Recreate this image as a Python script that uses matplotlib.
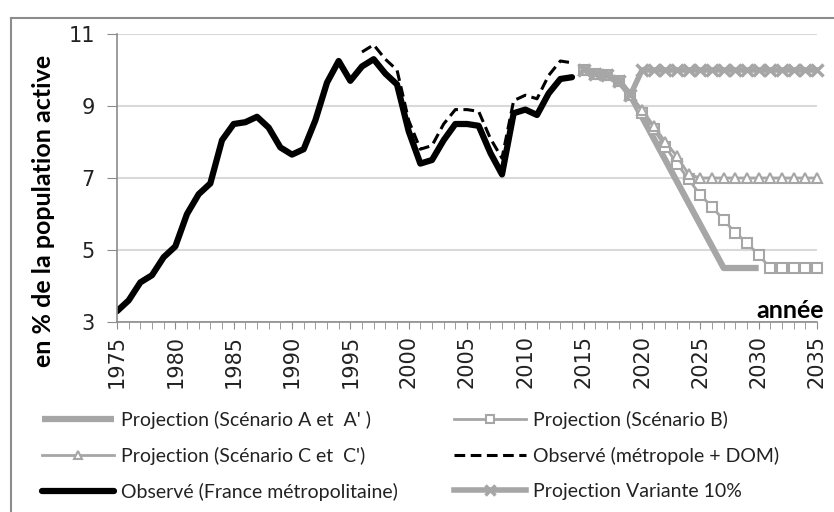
import matplotlib
matplotlib.use('Agg')
import matplotlib.pyplot as plt
from matplotlib.lines import Line2D
import numpy as np

# observed series
years_obs = list(range(1975, 2015))
france_metro = [3.3, 3.6, 4.1, 4.3, 4.8, 5.1, 6.0, 6.55, 6.85, 8.05,
                8.5, 8.55, 8.7, 8.4, 7.85, 7.65, 7.8, 8.6, 9.65, 10.25,
                9.7, 10.1, 10.3, 9.9, 9.6, 8.3, 7.4, 7.5, 8.05, 8.5,
                8.5, 8.45, 7.7, 7.1, 8.8, 8.9, 8.75, 9.35, 9.75, 9.8]
years_dom = list(range(1996, 2015))
metro_dom = [10.5, 10.7, 10.3, 10.0, 8.6, 7.8, 7.9, 8.5, 8.9, 8.9,
             8.85, 8.1, 7.55, 9.15, 9.3, 9.2, 9.85, 10.25, 10.2]

# projections
years_a = list(range(2015, 2031))
scen_a = [10.0, 9.9, 9.85, 9.7, 9.3, 8.7, 8.1, 7.5, 6.9, 6.3,
          5.7, 5.1, 4.5, 4.5, 4.5, 4.5]
years_proj = list(range(2015, 2036))
scen_b = [10.0, 9.9, 9.85, 9.7, 9.3, 8.8, 8.35, 7.87, 7.4, 6.96,
          6.53, 6.2, 5.83, 5.48, 5.2, 4.86, 4.5, 4.5, 4.5, 4.5, 4.5]
scen_c = [10.0, 9.9, 9.85, 9.7, 9.3, 8.9, 8.45, 8.0, 7.6, 7.1,
          7.0, 7.0, 7.0, 7.0, 7.0, 7.0, 7.0, 7.0, 7.0, 7.0, 7.0]
variante = [10.0, 9.9, 9.85, 9.7, 9.3, 10.0, 10.0, 10.0, 10.0, 10.0,
            10.0, 10.0, 10.0, 10.0, 10.0, 10.0, 10.0, 10.0, 10.0, 10.0, 10.0]

labels = ["Projection (Scénario A et  A' )", "Projection (Scénario B)",
          "Projection (Scénario C et  C')", "Observé (métropole + DOM)",
          "Observé (France métropolitaine)", "Projection Variante 10%"]

grey = '#a6a6a6'
axis_grey = '#8c8c8c'

fig = plt.figure(figsize=(8.34, 5.12), dpi=100)
ax = fig.add_axes([117/834, 1 - 322/512, 700/834, 288/512])

la, = ax.plot(years_a, scen_a, color=grey, lw=4.5, solid_capstyle='butt')
lb, = ax.plot(years_proj, scen_b, color=grey, lw=2, marker='s', ms=7,
              mfc='white', mec=grey, mew=1.5, clip_on=False)
lc, = ax.plot(years_proj, scen_c, color=grey, lw=2, marker='^', ms=7.5,
              mfc='white', mec=grey, mew=1.5, clip_on=False)
ld, = ax.plot(years_dom, metro_dom, color='black', lw=2.2, dashes=(3.5, 1.8))
lf, = ax.plot(years_obs, france_metro, color='black', lw=4.5,
              solid_capstyle='round', solid_joinstyle='round')
lv, = ax.plot(years_proj, variante, color=grey, lw=4, marker='x', ms=9,
              mew=2.5, mec=grey, clip_on=False)

ax.set_xlim(1975, 2035)
ax.set_ylim(3, 11)
ax.set_yticks([3, 5, 7, 9, 11])
ax.set_xticks(range(1975, 2036, 5))
ax.set_xticks(range(1975, 2036), minor=True)
ax.yaxis.grid(True, color='#d9d9d9', lw=1.5)
ax.set_axisbelow(True)
for s in ['top', 'right']:
    ax.spines[s].set_visible(False)
for s in ['left', 'bottom']:
    ax.spines[s].set_color(axis_grey)
    ax.spines[s].set_linewidth(1.2)
ax.tick_params(axis='y', length=7, color=axis_grey, pad=9, labelsize=15)
ax.tick_params(axis='x', which='both', length=5, color=axis_grey, pad=4,
               labelsize=15, labelrotation=90)
for t in ax.get_xticklabels() + ax.get_yticklabels():
    t.set_fontfamily('DejaVu Sans')
    t.set_color('#222222')

fig.text(44/834, 1 - 211/512, 'en % de la population active', rotation=90,
         ha='center', va='center', fontsize=18, fontweight='bold',
         family=['Lato', 'DejaVu Sans'])
fig.text(824/834, 1 - 318/512, 'année', ha='right', va='baseline',
         fontsize=18, fontweight='bold', family=['Lato', 'DejaVu Sans'])

leg_font = {'family': ['Lato', 'DejaVu Sans'], 'size': 14}
leg_kw = dict(loc='upper left', frameon=False, borderpad=0, borderaxespad=0,
              handlelength=3.7, handletextpad=0.35, labelspacing=0.92,
              markerscale=0.8, prop=leg_font)
leg1 = fig.legend([la, lc, lf], [labels[0], labels[2], labels[4]],
                  bbox_to_anchor=(42/834, 1 - 411/512), **leg_kw)
leg2 = fig.legend([lb, ld, lv], [labels[1], labels[3], labels[5]],
                  bbox_to_anchor=(454/834, 1 - 411/512), **leg_kw)
for lg in (leg1, leg2):
    for t in lg.get_texts():
        t.set_color('#222222')

# chart area border (cropped on the right and bottom)
fig.add_artist(Line2D([11/834, 11/834], [0, 1 - 18/512], color=axis_grey,
                      lw=1.5, transform=fig.transFigure))
fig.add_artist(Line2D([11/834, 1], [1 - 18/512, 1 - 18/512], color=axis_grey,
                      lw=1.5, transform=fig.transFigure))

fig.savefig('out.png', dpi=100, facecolor='white')
